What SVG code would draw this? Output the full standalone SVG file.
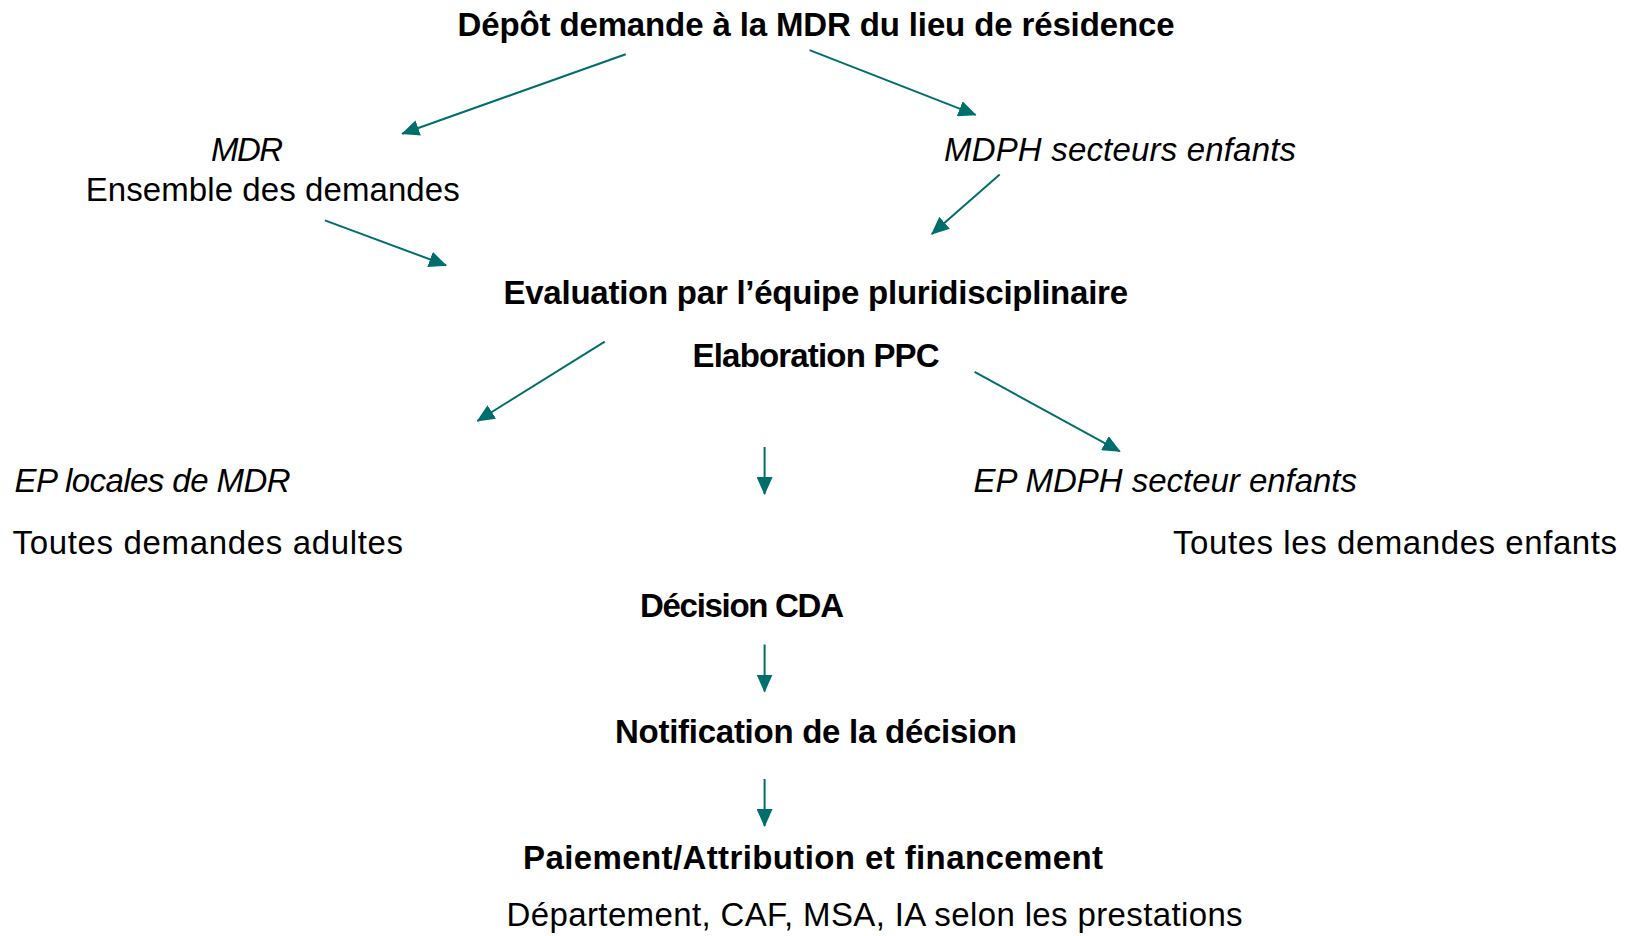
<svg xmlns="http://www.w3.org/2000/svg" width="1638" height="936" viewBox="0 0 1638 936">
<style>
text{font-family:"Liberation Sans",Arial,sans-serif;font-size:33px;fill:#000}
.b{font-weight:bold}
.i{font-style:italic}
.c line{stroke:#006e6c;stroke-width:2;fill:none}
</style>
<defs>
<marker id="ah" markerUnits="userSpaceOnUse" markerWidth="18" markerHeight="16" refX="17" refY="8" orient="auto">
<path d="M0,0 L18,8 L0,16 z" fill="#006e6c"/>
</marker>
</defs>
<rect width="1638" height="936" fill="#fff"/>
<g class="c" id="connectors">
<line x1="625.7" y1="54.3" x2="402.2" y2="133.7" marker-end="url(#ah)"/>
<line x1="809.6" y1="50.1" x2="975.6" y2="114.9" marker-end="url(#ah)"/>
<line x1="999.7" y1="174.5" x2="931.8" y2="234" marker-end="url(#ah)"/>
<line x1="324.9" y1="220.4" x2="446" y2="265.3" marker-end="url(#ah)"/>
<line x1="604.8" y1="341.6" x2="477.4" y2="421" marker-end="url(#ah)"/>
<line x1="974.6" y1="371.9" x2="1119.8" y2="451.3" marker-end="url(#ah)"/>
<line x1="764.6" y1="447" x2="764.6" y2="494" marker-end="url(#ah)"/>
<line x1="764.6" y1="644.5" x2="764.6" y2="691.5" marker-end="url(#ah)"/>
<line x1="764.6" y1="779" x2="764.6" y2="826" marker-end="url(#ah)"/>
</g>
<g id="depot"><text class="b" x="457.5" y="36" textLength="717">Dépôt demande à la MDR du lieu de résidence</text></g>
<g id="mdr"><text class="i" x="211" y="161" textLength="72">MDR</text><text x="85.7" y="200.5" textLength="374">Ensemble des demandes</text></g>
<g id="mdph"><text class="i" x="944" y="161" textLength="352">MDPH secteurs enfants</text></g>
<g id="evaluation"><text class="b" x="503.5" y="304" textLength="624.5">Evaluation par l’équipe pluridisciplinaire</text><text class="b" x="692.6" y="367" textLength="247">Elaboration PPC</text></g>
<g id="ep-mdr"><text class="i" x="14.6" y="492" textLength="276">EP locales de MDR</text><text x="12.5" y="554" textLength="390.5">Toutes demandes adultes</text></g>
<g id="ep-mdph"><text class="i" x="973.6" y="492" textLength="383.4">EP MDPH secteur enfants</text><text x="1173" y="554" textLength="444">Toutes les demandes enfants</text></g>
<g id="decision"><text class="b" x="640" y="617" textLength="204">Décision CDA</text></g>
<g id="notification"><text class="b" x="615" y="743" textLength="402">Notification de la décision</text></g>
<g id="paiement"><text class="b" x="523" y="869" textLength="580">Paiement/Attribution et financement</text><text x="506.6" y="926" textLength="736">Département, CAF, MSA, IA selon les prestations</text></g>
</svg>
